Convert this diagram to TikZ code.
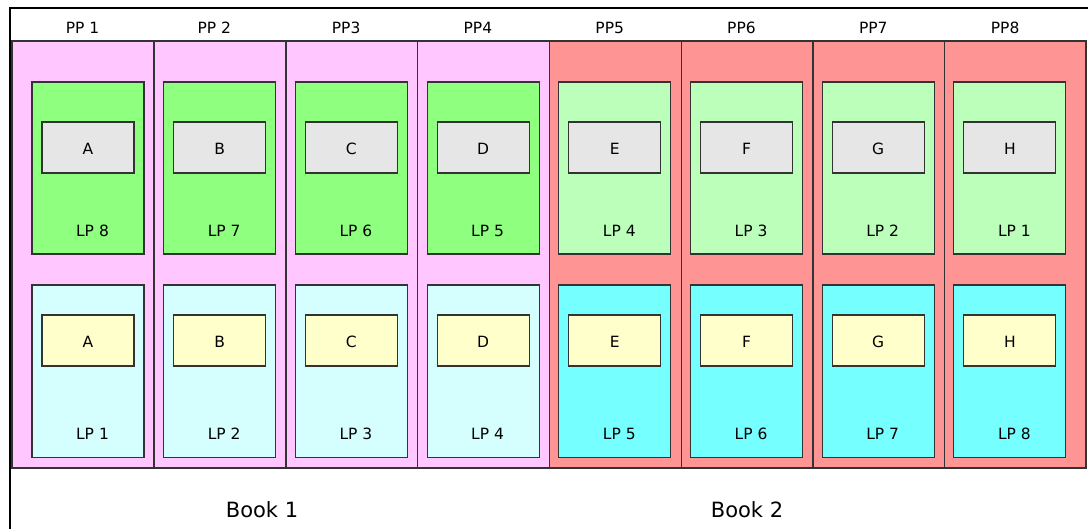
\documentclass[tikz,border=0pt]{standalone}
\usepackage{fontspec}
\setmainfont{DejaVu Sans}
\definecolor{pinkbg}{HTML}{FFC6FF}
\definecolor{redbg}{HTML}{FF9494}
\definecolor{grn}{HTML}{8FFF7F}
\definecolor{lgrn}{HTML}{BBFFBB}
\definecolor{lcyan}{HTML}{D5FFFF}
\definecolor{cyn}{HTML}{75FFFF}
\definecolor{gry}{HTML}{E6E6E6}
\definecolor{ylw}{HTML}{FFFFCC}
\definecolor{edge}{HTML}{333333}
\tikzset{
  box/.style={draw=edge, line width=1.1pt},
  lbl/.style={font=\fontsize{15.5}{17}\selectfont, inner sep=0pt, text=black},
  booklbl/.style={font=\fontsize{21}{25}\selectfont, inner sep=0pt, text=black},
}
\begin{document}
\begin{tikzpicture}[x=1pt,y=-1pt]
\useasboundingbox (0,0) rectangle (1088,529);
\begin{scope}
\clip (0,0) rectangle (1088,529);
\draw[black, line width=1.3pt] (10,8) rectangle (1095,540);
\end{scope}
% columns
\def\xs{{12,154,286,417.5,549.5,681.7,813,944.5,1086}}
\foreach \i in {1,...,8}{
  \pgfmathsetmacro{\xa}{\xs[\i-1]}
  \pgfmathsetmacro{\xb}{\xs[\i]}
  \ifnum\i<5 \def\cf{pinkbg}\def\tf{grn}\def\bf{lcyan}\else \def\cf{redbg}\def\tf{lgrn}\def\bf{cyn}\fi
  \draw[box, fill=\cf] (\xa,41) rectangle (\xb,468);
  \pgfmathsetmacro{\bx}{32+131.7*(\i-1)}
  \draw[box, fill=\tf] (\bx,82) rectangle ++(112,172);
  \draw[box, fill=\bf] (\bx,285) rectangle ++(112,172.5);
  \draw[box, fill=gry] (\bx+10,122) rectangle ++(92,51);
  \draw[box, fill=ylw] (\bx+10,315) rectangle ++(92,51);
}
% PP labels
\node[lbl] (pp1) at (82.5,28) {PP 1};
\node[lbl] (pp2) at (214.3,28) {PP 2};
\node[lbl] (pp3) at (346.1,28) {PP3};
\node[lbl] (pp4) at (477.9,28) {PP4};
\node[lbl] (pp5) at (609.7,28) {PP5};
\node[lbl] (pp6) at (741.5,28) {PP6};
\node[lbl] (pp7) at (873.3,28) {PP7};
\node[lbl] (pp8) at (1005.1,28) {PP8};
% letters and LP labels
\foreach \i/\L/\t/\b in {1/A/8/1,2/B/7/2,3/C/6/3,4/D/5/4,5/E/4/5,6/F/3/6,7/G/2/7,8/H/1/8}{
  \pgfmathsetmacro{\cx}{88+131.7*(\i-1)}
  \node[lbl] (up\i) at (\cx,148.5) {\L};
  \node[lbl] (dn\i) at (\cx,341.5) {\L};
  \node[lbl] (lpt\i) at (\cx+4.5,231) {LP \t};
  \node[lbl] (lpb\i) at (\cx+4.5,433.5) {LP \b};
}
\node[booklbl] (book1) at (262,510) {Book 1};
\node[booklbl] (book2) at (747,510) {Book 2};
\end{tikzpicture}
\end{document}
